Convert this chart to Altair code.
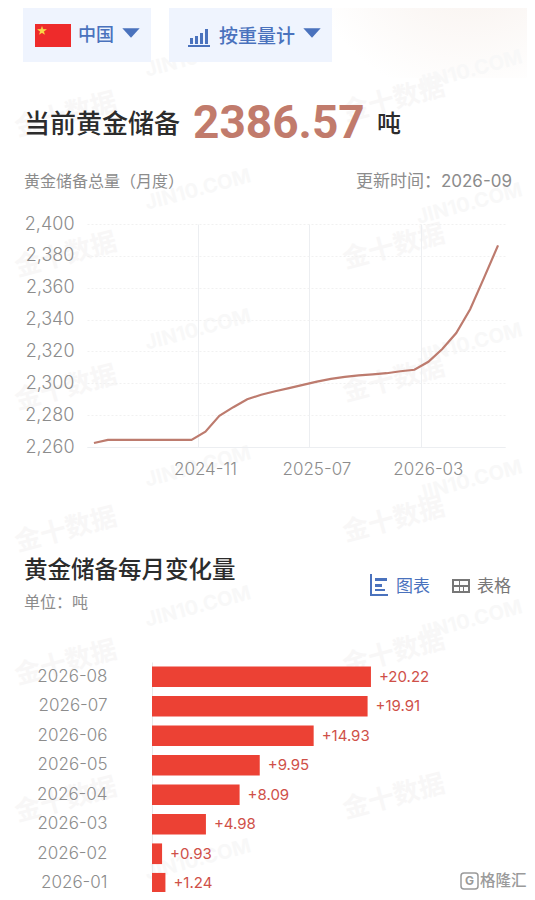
import altair as alt
import pandas as pd

months = ["2024-03","2024-04","2024-05","2024-06","2024-07","2024-08","2024-09","2024-10","2024-11","2024-12",
          "2025-01","2025-02","2025-03","2025-04","2025-05","2025-06","2025-07","2025-08","2025-09","2025-10",
          "2025-11","2025-12","2026-01","2026-02","2026-03","2026-04","2026-05","2026-06","2026-07","2026-08"]
reserves = [2262.5,2264.5,2264.5,2264.5,2264.5,2264.5,2264.5,2264.5,2269.6,2279.6,
            2285.0,2290.0,2292.8,2295.0,2297.0,2299.0,2301.0,2302.8,2304.0,2305.0,
            2305.6,2306.32,2307.56,2308.49,2313.47,2321.56,2331.51,2346.44,2366.35,2386.57]
bar_months = ["2026-08","2026-07","2026-06","2026-05","2026-04","2026-03","2026-02","2026-01"]
bar_values = [20.22,19.91,14.93,9.95,8.09,4.98,0.93,1.24]
bar_labels = ["+20.22","+19.91","+14.93","+9.95","+8.09","+4.98","+0.93","+1.24"]
y_ticks = [2260,2280,2300,2320,2340,2360,2380,2400]
x_ticks = ["2024-11","2025-07","2026-03"]

CJK = "Noto Sans CJK SC"
NUM = "Inter"
BLUE = "#4a72bd"
GREY = "#8c8c8c"
DARK = "#2c2c2c"
VIEW_X = 87
one = alt.Data(values=[{}])


def txt(s, px, py, oy, size=16, color=DARK, font=CJK, weight=400, align="left", angle=0):
    return alt.Chart(one).mark_text(
        fontSize=size, color=color, font=font, fontWeight=weight, align=align, baseline="middle", angle=angle
    ).encode(x=alt.value(px - VIEW_X), y=alt.value(py - oy), text=alt.value(s))


def box(x0, x1, y0, y1, oy, color):
    return alt.Chart(one).mark_rect(color=color).encode(
        x=alt.value(x0 - VIEW_X), x2=alt.value(x1 - VIEW_X), y=alt.value(y0 - oy), y2=alt.value(y1 - oy))


# ---------- header panel ----------
OY0 = 8
wm = []
for px, py in [(66, 115), (66, 255), (66, 388), (66, 530), (66, 663), (66, 800),
               (394, 100), (394, 247), (394, 380), (394, 520), (394, 653), (394, 797)]:
    wm.append(txt("金十数据", px, py, OY0, size=26, color="#f8f7f7", weight=700, align="center", angle=345))
for px, py in [(198, 57), (198, 190), (198, 330), (198, 467), (198, 607), (198, 860)]:
    wm.append(txt("JIN10.COM", px, py, OY0, size=20, color="#f8f8f8", font="Inter", weight=700, align="center", angle=345))
for py in [57, 190, 330, 467, 607]:
    wm.append(txt("JIN10.COM", 522, py, OY0, size=20, color="#f8f8f8", font="Inter", weight=700, align="right", angle=345))

glow = alt.Chart(one).mark_rect(
    color=alt.RadialGradient(gradient="radial", x1=0.75, y1=0, x2=0.75, y2=0, r1=0, r2=0.75,
                             stops=[alt.GradientStop(color="#f6eee9", offset=0),
                                    alt.GradientStop(color="#ffffff", offset=1)])
).encode(x=alt.value(300 - VIEW_X), x2=alt.value(527 - VIEW_X), y=alt.value(0), y2=alt.value(70))

icon_bars = [box(x0, x1, y0, 44, OY0, BLUE) for x0, x1, y0 in [(190, 193, 38), (195, 198, 36), (200, 203, 33), (205, 208, 29)]]

def tri(px, py):
    return alt.Chart(one).mark_point(shape="M -1 -0.55 L 1 -0.55 L 0 0.55 Z", filled=True, color=BLUE, size=300, opacity=1).encode(
        x=alt.value(px - VIEW_X), y=alt.value(py - OY0))

header = alt.layer(
    box(8, 9, 8, 9, OY0, "#ffffff"),
    glow, *wm,
    box(23, 151, 8, 62, OY0, "#eff4fe"),
    box(169, 332, 8, 62, OY0, "#eff4fe"),
    box(35, 71, 24, 47, OY0, "#ee2b2b"),
    txt("★", 42, 31, OY0, size=10, color="#f8d648", align="center"),
    txt("中国", 78, 36, OY0, size=18, color=BLUE, weight=500),
    tri(131, 33),
    *icon_bars,
    box(188, 210, 45, 47, OY0, BLUE),
    txt("按重量计", 219, 37, OY0, size=19, color=BLUE, weight=500),
    tri(312, 33),
    txt("当前黄金储备", 24, 125, OY0, size=26, color=DARK, weight=500),
    txt("2386.57", 193, 124, OY0, size=46, color="#c17b6c", font="Roboto", weight=700),
    txt("吨", 377, 125, OY0, size=24, color=DARK, weight=500),
    txt("黄金储备总量（月度）", 24, 182, OY0, size=16, color=GREY),
    txt("更新时间：2026-09", 512, 182, OY0, size=17, color=GREY, font="Inter, Noto Sans CJK SC", align="right"),
).properties(width=418, height=216)

# ---------- line panel ----------
line_df = pd.DataFrame({"month": months, "value": reserves})
line = alt.Chart(line_df).mark_line(color="#bd7b6e", strokeWidth=2.2).encode(
    x=alt.X("month:N", sort=None, title=None,
            scale=alt.Scale(type="band", paddingInner=0, paddingOuter=0),
            axis=alt.Axis(values=x_ticks, bandPosition=0, labelAngle=0, ticks=False, domain=True,
                          domainColor="#eceef1", grid=True, gridColor="#eceef1", labelFontSize=17, labelFont=NUM,
                          labelColor=GREY, labelPadding=14, labelFontWeight=300)),
    y=alt.Y("value:Q", title=None, scale=alt.Scale(domain=[2260, 2400], nice=False, zero=False),
            axis=alt.Axis(values=y_ticks, format=",.0f", ticks=False, domain=False, grid=True, gridColor="#f1f1f1",
                          gridDash=[2, 2], labelFontSize=18, labelFont=NUM, labelColor=GREY, labelPadding=13,
                          labelFontWeight=300)),
).properties(width=418, height=223, view=alt.ViewBackground(stroke="#eef0f3"))

# ---------- middle titles ----------
OY2 = 447
tab_icon = [box(370, 372, 574, 596, OY2, BLUE), box(370, 388, 594, 596, OY2, BLUE),
            box(375, 387, 578, 581, OY2, BLUE), box(375, 382, 584, 587, OY2, BLUE), box(375, 385, 589, 591, OY2, BLUE)]
tbl_icon = [box(452, 470, 579, 593, OY2, "#777777"), box(454, 459, 581, 585, OY2, "#ffffff"), box(460, 468, 581, 585, OY2, "#ffffff"),
            box(454, 459, 587, 591, OY2, "#ffffff"), box(460, 463, 587, 591, OY2, "#ffffff"), box(464, 468, 587, 591, OY2, "#ffffff")]
mid = alt.layer(
    txt("黄金储备每月变化量", 24, 571, OY2, size=23.5, color=DARK, weight=500),
    txt("单位：吨", 24, 603, OY2, size=16, color=GREY),
    *tab_icon,
    txt("图表", 396, 587, OY2, size=17, color=BLUE),
    *tbl_icon,
    txt("表格", 477, 587, OY2, size=17, color="#777777"),
).properties(width=418, height=214)

# ---------- bars ----------
OY3 = 662
bar_df = pd.DataFrame({"month": bar_months, "value": bar_values, "label": bar_labels})
xs = alt.X("value:Q", title=None, axis=None, scale=alt.Scale(domain=[0, 32.6], range=[65, 418], nice=False))
ys = alt.Y("month:N", sort=None, title=None, scale=alt.Scale(paddingInner=0.3, paddingOuter=0.15),
           axis=alt.Axis(offset=-65, ticks=False, domain=True, domainColor="#e9e9e9", labelFontSize=17, labelFont=NUM,
                         labelColor=GREY, labelPadding=45, labelFontWeight=300))
bars = alt.Chart(bar_df).mark_bar(color="#ec4134").encode(x=xs, y=ys)
labels = alt.Chart(bar_df).mark_text(align="left", dx=8, fontSize=15, font=NUM, color="#cf5048").encode(
    x=xs, y=ys, text="label:N")
logo = alt.layer(
    alt.Chart(one).mark_rect(filled=False, stroke="#9a9a9a", strokeWidth=1.5, cornerRadius=3).encode(
        x=alt.value(461 - VIEW_X), x2=alt.value(478 - VIEW_X), y=alt.value(873 - OY3), y2=alt.value(889 - OY3)),
    txt("G", 469.5, 881, OY3, size=12, color="#9a9a9a", font="Inter", weight=700, align="center"),
    txt("格隆汇", 480, 881, OY3, size=15.5, color="#9a9a9a", weight=500),
)
bar_panel = alt.layer(bars, labels, logo).properties(width=418, height=236)

chart = alt.vconcat(header, line, alt.layer(mid).properties(height=215), bar_panel, spacing=0, bounds="flush").properties(
    padding={"left": 0, "top": 0, "right": 0, "bottom": -6}, background="#ffffff"
).configure_view(strokeWidth=0)

chart.save("out.html", embed_options={"renderer": "svg", "actions": False})
